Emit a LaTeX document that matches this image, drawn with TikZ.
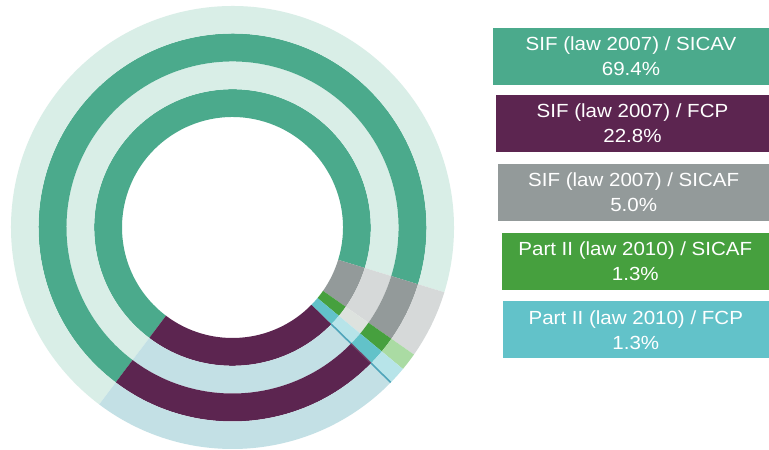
\documentclass[tikz,border=0pt]{standalone}
\usepackage{fontspec}
\setmainfont{Liberation Sans}
\newfontfamily\legendfont[FakeStretch=1.08]{Liberation Sans}
\definecolor{sicav}{HTML}{4BAA8C}
\definecolor{sicavL}{HTML}{D9EEE7}
\definecolor{fcp}{HTML}{5C2550}
\definecolor{fcpL}{HTML}{C3E0E5}
\definecolor{sicaf}{HTML}{939A9A}
\definecolor{sicafL}{HTML}{D6D9D9}
\definecolor{ptsicaf}{HTML}{46A03E}
\definecolor{ptsicafM}{HTML}{DDE2DE}
\definecolor{ptsicafL}{HTML}{AADBA3}
\definecolor{ptfcp}{HTML}{62C2C9}
\definecolor{ptfcpL}{HTML}{B7E4E9}
\definecolor{sepline}{HTML}{4FA5BA}
\definecolor{sepfaint}{HTML}{704065}
\newcommand\ringsector[5]{%
  \fill[#1] (#2:#4pt) arc[start angle=#2,end angle=#3,radius=#4pt]
    -- (#3:#5pt) arc[start angle=#3,end angle=#2,radius=#5pt] -- cycle;}
\newcommand\ringset[6]{% rin rout green grey ptsicaf ptfcp colours
  \ringsector{#3}{-17}{233}{#1}{#2}%
  \ringsector{#4}{-35}{-17}{#1}{#2}%
  \ringsector{#5}{-39.7}{-35}{#1}{#2}%
  \ringsector{#6}{-44.4}{-39.7}{#1}{#2}}
\tikzset{
  legendbox/.style={minimum height=57pt,inner sep=0pt,text=white,
    align=center,font=\legendfont\fontsize{19pt}{25pt}\selectfont}
}
\begin{document}
\begin{tikzpicture}[x=1pt,y=1pt]
\useasboundingbox (0,0) rectangle (769,450);
\fill[white] (0,0) rectangle (769,450);
\begin{scope}[shift={(232.5,222.5)}]
  % ring 1 (inner, dark)
  \ringset{110.5}{138.3}{sicav}{sicaf}{ptsicaf}{ptfcp}
  \ringsector{fcp}{-127}{-44.4}{110.5}{138.3}
  % ring 2 (light)
  \ringset{138.3}{166}{sicavL}{sicafL}{ptsicafM}{ptfcpL}
  \ringsector{fcpL}{-127}{-44.4}{138.3}{166}
  % ring 3 (dark)
  \ringset{166}{194}{sicav}{sicaf}{ptsicaf}{ptfcp}
  \ringsector{fcp}{-127}{-44.4}{166}{194}
  % ring 4 (outer, light)
  \ringset{194}{221.5}{sicavL}{sicafL}{ptsicafL}{ptfcpL}
  \ringsector{fcpL}{-127}{-44.4}{194}{221.5}
  % separator line
  \draw[sepline,line width=1.6pt] (-44.4:138.3pt) -- (-44.4:166pt);
  \draw[sepfaint,line width=1.2pt] (-44.4:166pt) -- (-44.4:194pt);
  \draw[sepline,line width=1.6pt] (-44.4:194pt) -- (-44.4:221.5pt);
\end{scope}
% legend
\node[legendbox,fill=sicav,minimum width=276pt] (l1) at (631,393.5)
  {SIF (law 2007) / SICAV\\69.4\%};
\node[legendbox,fill=fcp,minimum width=273pt] (l2) at (632.5,326.3)
  {SIF (law 2007) / FCP\\22.8\%};
\node[legendbox,fill=sicaf,minimum width=270.7pt] (l3) at (633.7,257.5)
  {SIF (law 2007) / SICAF\\5.0\%};
\node[legendbox,fill=ptsicaf,minimum width=267.3pt] (l4) at (635.3,188.3)
  {Part II (law 2010) / SICAF\\1.3\%};
\node[legendbox,fill=ptfcp,minimum width=266.3pt] (l5) at (635.8,120)
  {Part II (law 2010) / FCP\\1.3\%};
\end{tikzpicture}
\end{document}
